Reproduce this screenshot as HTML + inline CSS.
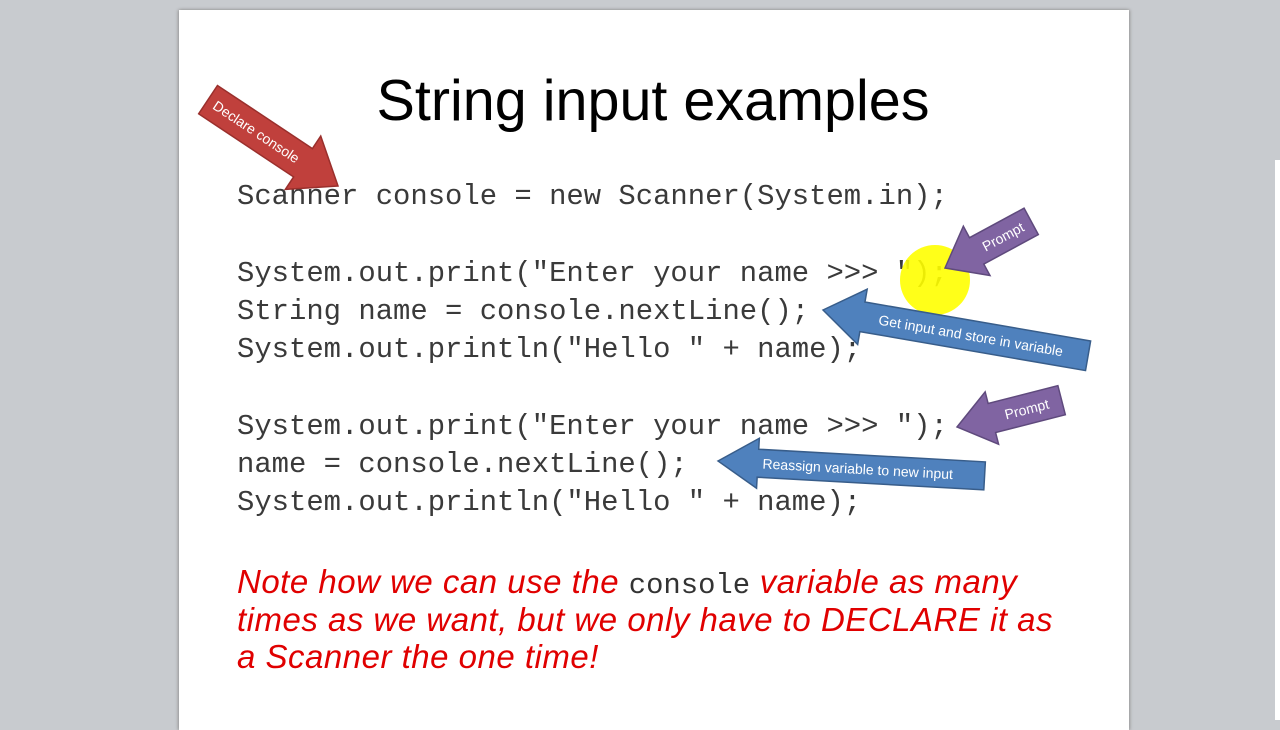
<!DOCTYPE html>
<html><head><meta charset="utf-8"><style>
html,body{margin:0;padding:0}
body{width:1280px;height:720px;background:#c8cbcf;position:relative;overflow:hidden;font-family:"Liberation Sans",sans-serif}
#slide{position:absolute;left:179px;top:10px;width:950px;height:720px;background:#fff;box-shadow:-1px 0 3px #999,1px 0 3px #999}
#strip{position:absolute;left:1275px;top:160px;width:5px;height:560px;background:#fff}
.t{position:absolute;left:0;width:1280px;text-align:center;top:68px;font-size:57.5px;color:#000;line-height:66px;padding-left:26px;box-sizing:border-box}
.c{position:absolute;left:237px;font-family:"Liberation Mono",monospace;font-size:28.9px;color:#3a3a3a;line-height:38px;white-space:pre}
.n{position:absolute;left:237px;font-style:italic;font-size:33px;letter-spacing:0.5px;color:#e00000;line-height:37.5px;top:563px;white-space:pre}
.n span{font-style:normal;font-family:"Liberation Mono",monospace;font-size:28.9px;letter-spacing:0;color:#333;line-height:0}
svg{position:absolute;left:0;top:0}
</style></head><body>
<div id="slide"></div>
<div id="strip"></div>
<div class="t">String input examples</div>
<div class="c" style="top:178px">Scanner console = new Scanner(System.in);</div>
<div class="c" style="top:255px">System.out.print("Enter your name &gt;&gt;&gt; ");
String name = console.nextLine();
System.out.println("Hello " + name);</div>
<div class="c" style="top:408px">System.out.print("Enter your name &gt;&gt;&gt; ");
name = console.nextLine();
System.out.println("Hello " + name);</div>
<div class="n">Note how we can use the <span>console</span> variable as many
times as we want, but we only have to DECLARE it as
a Scanner the one time!</div>
<svg width="1280" height="720" font-family="Liberation Sans, sans-serif">
<circle cx="935" cy="280" r="35" fill="#ffff00" opacity="0.9"/>
<g transform="translate(338,186) rotate(213.6)">
<polygon points="0,0 42,-32 42,-17 156,-17 156,17 42,17 42,32" fill="#c0403c" stroke="#9a2f2c" stroke-width="1.5"/>
<text transform="translate(98,0) rotate(180)" font-size="14" fill="#fff" text-anchor="middle" dy="5">Declare console</text></g>
<g transform="translate(945,268) rotate(-28.4)">
<polygon points="0,0 36,-28 36,-15 98,-15 98,15 36,15 36,28" fill="#8064a2" stroke="#5f4a7d" stroke-width="1.5"/>
<text x="66" font-size="14" fill="#fff" text-anchor="middle" dy="5">Prompt</text></g>
<g transform="translate(823,310) rotate(9.8)">
<polygon points="0,0 40,-28 40,-15 269,-15 269,15 40,15 40,28" fill="#4f81bd" stroke="#385d8a" stroke-width="1.5"/>
<text x="150" font-size="14" fill="#fff" text-anchor="middle" dy="5">Get input and store in variable</text></g>
<g transform="translate(957,427) rotate(-14.4)">
<polygon points="0,0 36,-27 36,-15 108,-15 108,15 36,15 36,27" fill="#8064a2" stroke="#5f4a7d" stroke-width="1.5"/>
<text x="72" font-size="14" fill="#fff" text-anchor="middle" dy="5">Prompt</text></g>
<g transform="translate(718,461) rotate(3.2)">
<polygon points="0,0 40,-25 40,-14 267,-14 267,14 40,14 40,25" fill="#4f81bd" stroke="#385d8a" stroke-width="1.5"/>
<text x="140" font-size="14" fill="#fff" text-anchor="middle" dy="5">Reassign variable to new input</text></g>
</svg>
</body></html>
